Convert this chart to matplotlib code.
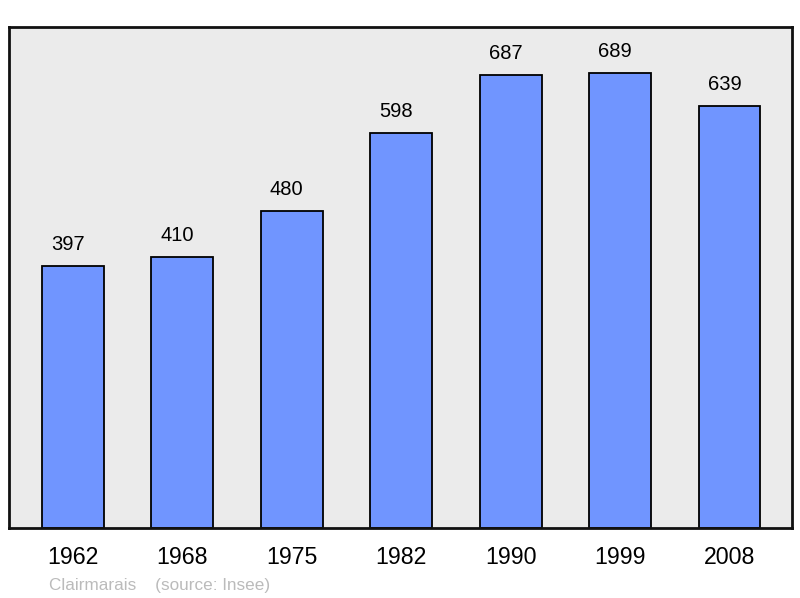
import numpy as np
import matplotlib.pyplot as plt

plt.rcParams['font.family'] = ['Liberation Sans', 'DejaVu Sans']

years = ["1962", "1968", "1975", "1982", "1990", "1999", "2008"]
population = [397, 410, 480, 598, 687, 689, 639]

fig = plt.figure(figsize=(8, 5.98), dpi=100)
ax = fig.add_axes([9/800, 70/598, 783/800, 501/598])
ax.set_facecolor("#ebebeb")

x = np.arange(len(years))
ax.bar(x, population, width=0.566, color="#7095ff", edgecolor="black", linewidth=1.3, zorder=2)

# value labels sit a bit left of the bar centre, as in the original
for xi, v in zip(x, population):
    ax.annotate(str(v), (xi, v), xytext=(-5, 12), textcoords="offset pixels",
                ha="center", va="bottom", fontsize=14.5, color="black")

ax.set_xlim(-0.584, len(years) - 1 + 0.571)
ax.set_ylim(0, 759)
ax.set_yticks([])
ax.set_xticks(x)
ax.set_xticklabels(years, fontsize=16.7)
ax.tick_params(axis="x", length=0, pad=13)
for s in ax.spines.values():
    s.set_linewidth(2)
    s.set_color("#111111")

fig.text(49/800, 1 - 590/598, "Clairmarais    (source: Insee)", fontsize=12.3,
         color="#bbbbbb", ha="left", va="baseline")

fig.savefig("out.png", dpi=100)
